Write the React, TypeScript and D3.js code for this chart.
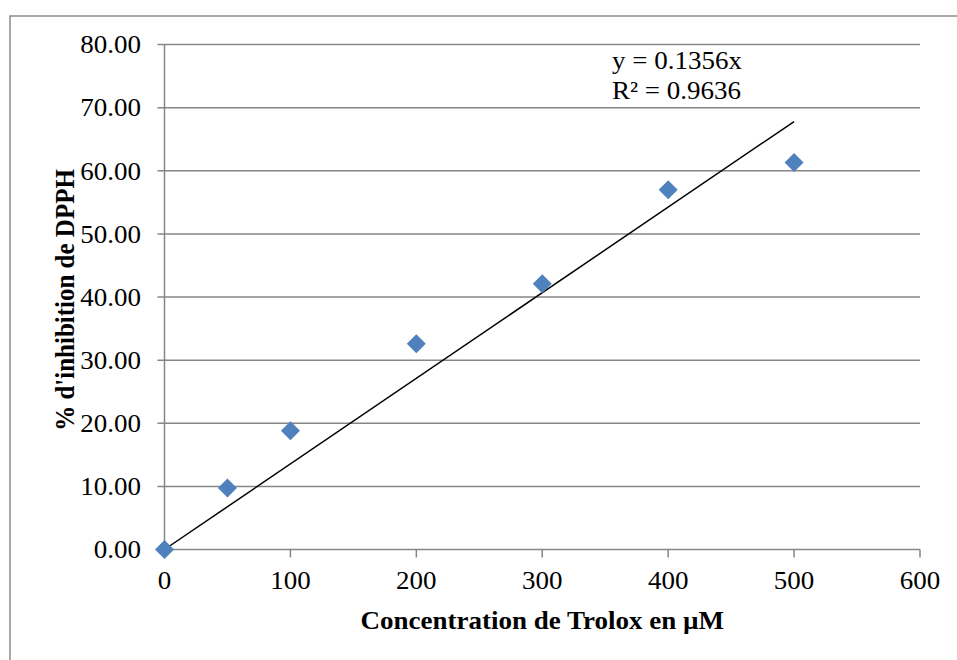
import React from "react";
import * as d3 from "d3";

const concentrations = [0, 50, 100, 200, 300, 400, 500];
const inhibition = [0.0, 9.75, 18.8, 32.6, 42.1, 57.0, 61.3];
const slope = 0.1356;
const r2 = 0.9636;
const yTicks = [0, 10, 20, 30, 40, 50, 60, 70, 80];
const xTicks = [0, 100, 200, 300, 400, 500, 600];
const xTitle = "Concentration de Trolox en µM";
const yTitle = "% d'inhibition de DPPH";

const W = 957;
const H = 660;
const margin = { left: 164.5, right: 37, top: 44.5, bottom: 110.5 };
const FONT = "'Liberation Serif', 'Times New Roman', serif";
const GRID = "#868686";
const SX = 1.08;
const FS = 25;

function HText(props: {
  x: number;
  y: number;
  anchor?: string;
  dy?: string;
  bold?: boolean;
  children: React.ReactNode;
}) {
  return (
    <g transform={`translate(${props.x},${props.y}) scale(${SX},1)`}>
      <text
        x={0}
        y={0}
        dy={props.dy}
        textAnchor={props.anchor || "start"}
        fontSize={FS}
        fontWeight={props.bold ? "bold" : "normal"}
        fill="#000"
      >
        {props.children}
      </text>
    </g>
  );
}

export default function App() {
  const x = d3.scaleLinear().domain([0, 600]).range([margin.left, W - margin.right]);
  const y = d3.scaleLinear().domain([0, 80]).range([H - margin.bottom, margin.top]);
  const line = d3
    .line<number>()
    .x((d) => x(d))
    .y((d) => y(slope * d));
  const diamond = (cx: number, cy: number, r: number) =>
    `M${cx},${cy - r}L${cx + r},${cy}L${cx},${cy + r}L${cx - r},${cy}Z`;
  const x0 = x(0);
  const y0 = y(0);
  return (
    <svg
      width={W}
      height={H}
      style={{ position: "absolute", left: 0, top: 0, fontFamily: FONT }}
    >
      <rect x={0} y={0} width={W} height={H} fill="#fff" />
      <rect x={10} y={16} width={W + 20} height={H + 20} fill="none" stroke="#8c8c8c" strokeWidth={1.5} />
      {yTicks.map((t) => (
        <g key={"y" + t}>
          <line x1={x0 - 7} x2={x(600)} y1={y(t)} y2={y(t)} stroke={GRID} strokeWidth={1.5} />
          <HText x={141} y={y(t)} dy="0.35em" anchor="end">
            {t.toFixed(2)}
          </HText>
        </g>
      ))}
      <line x1={x0} x2={x0} y1={y(80)} y2={y0} stroke={GRID} strokeWidth={1.5} />
      {xTicks.map((t) => (
        <g key={"x" + t}>
          <line x1={x(t)} x2={x(t)} y1={y0} y2={y0 + 8} stroke={GRID} strokeWidth={1.5} />
          <HText x={x(t)} y={589} anchor="middle">
            {t}
          </HText>
        </g>
      ))}
      <path d={line([0, 500]) || ""} stroke="#000" strokeWidth={1.5} fill="none" />
      {concentrations.map((c, i) => (
        <path key={"p" + i} d={diamond(x(c), y(inhibition[i]), 9.5)} fill="#4F81BD" />
      ))}
      <HText x={612} y={69}>{`y = ${slope}x`}</HText>
      <HText x={612} y={99}>{`R² = ${r2}`}</HText>
      <HText x={(x0 + x(600)) / 2} y={629} anchor="middle" bold>
        {xTitle}
      </HText>
      <g transform={`translate(74,300) scale(${SX},1) rotate(-90)`}>
        <text x={0} y={0} textAnchor="middle" fontSize={FS} fontWeight="bold" fill="#000">
          {yTitle}
        </text>
      </g>
    </svg>
  );
}
